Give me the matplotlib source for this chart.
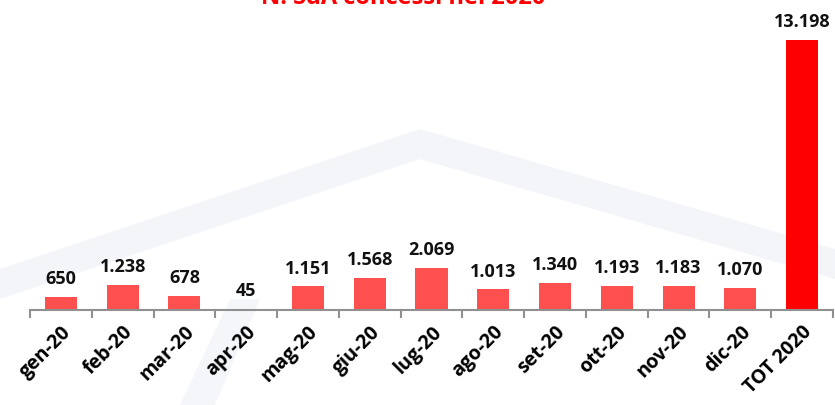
import matplotlib.pyplot as plt
from matplotlib.patches import Polygon

plt.rcParams['font.family'] = ['Open Sans', 'DejaVu Sans']

mesi = ['gen-20', 'feb-20', 'mar-20', 'apr-20', 'mag-20', 'giu-20', 'lug-20',
        'ago-20', 'set-20', 'ott-20', 'nov-20', 'dic-20', 'TOT 2020']
valori = [650, 1238, 678, 45, 1151, 1568, 2069, 1013, 1340, 1193, 1183, 1070, 13198]
etichette = ['650', '1.238', '678', '45', '1.151', '1.568', '2.069', '1.013',
             '1.340', '1.193', '1.183', '1.070', '13.198']
colori = ['#ff5050'] * 12 + ['#ff0000']

fig = plt.figure(figsize=(8.35, 4.06), dpi=100)

# faint watermark in the background
bg = fig.add_axes([0, 0, 1, 1], zorder=-1)
bg.set_xlim(0, 835)
bg.set_ylim(406, 0)
bg.axis('off')
bg.add_patch(Polygon([(0, 270), (420, 130), (835, 250), (835, 280), (420, 160), (0, 300)],
                     closed=True, color='#f3f5f9', lw=0))
bg.add_patch(Polygon([(180, 406), (230, 300), (260, 300), (215, 406)],
                     closed=True, color='#f4f6f9', lw=0))

ax = fig.add_axes([30 / 835, 1 - 311 / 406, 803 / 835, 301 / 406])
ax.patch.set_alpha(0)
x = range(len(mesi))
ax.bar(x, valori, width=0.52, color=colori)
ax.set_xlim(-0.5, len(mesi) - 0.5)
ax.set_ylim(0, 14700)

for i, (v, t) in enumerate(zip(valori, etichette)):
    ax.annotate(t, (i, v), xytext=(0, 7), textcoords='offset points',
                ha='center', va='bottom', fontsize=13, fontweight='bold', color='#111111')

for s in ['top', 'right', 'left']:
    ax.spines[s].set_visible(False)
ax.spines['bottom'].set_color('#909090')
ax.spines['bottom'].set_linewidth(1.5)
ax.set_yticks([])
ax.set_xticks(list(x))
ax.set_xticklabels(mesi, rotation=45, ha='right', rotation_mode='anchor',
                   fontsize=14, fontweight='bold')
ax.tick_params(axis='x', which='major', length=0, pad=8)
ax.set_xticks([i - 0.5 for i in range(len(mesi) + 1)], minor=True)
ax.tick_params(axis='x', which='minor', length=6, width=1.5, color='#909090')

fig.text(403 / 835, 1 - 4 / 406, 'N. SdA concessi nel 2020', ha='center', va='baseline',
         fontsize=17, fontweight='bold', color='#ff0000')

fig.savefig('out.png', dpi=100)
